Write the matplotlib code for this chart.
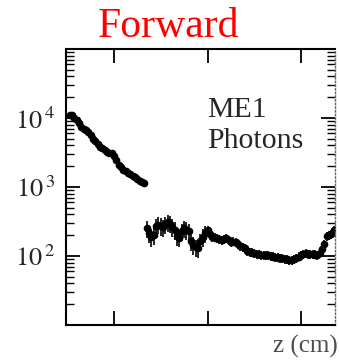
import numpy as np
import matplotlib.pyplot as plt
from matplotlib.ticker import LogLocator, NullFormatter, FixedLocator

# photon rate vs z, first part (inner ring region)
z_inner = [505, 510, 515, 520, 525, 530, 535, 540, 545, 550, 555, 560, 565, 570,
           575, 580, 585, 590, 595, 600, 605, 610, 615, 620, 625, 630, 635, 640,
           645, 650, 655, 660, 665]
n_inner = [11200, 10900, 10000, 9500, 8500, 7400, 6900, 6800, 6300, 5600, 5000,
           4600, 4200, 3800, 3700, 3450, 3250, 3150, 3100, 2800, 2500, 2100, 1950,
           1780, 1700, 1620, 1550, 1450, 1380, 1290, 1230, 1180, 1150]

# second part
z_outer = [670, 675, 680, 685, 690, 695, 700, 705, 710, 715, 720, 725, 730, 735,
           740, 745, 750, 755, 760, 765, 770, 775, 780, 785, 790, 795, 800, 805,
           810, 815, 820, 825, 830, 835, 840, 845, 850, 855, 860, 865, 870, 875,
           880, 885, 890, 895, 900, 905, 910, 915, 920, 925, 930, 935, 940, 945,
           950, 955, 960, 965, 970, 975, 980, 985, 990, 995, 1000, 1005, 1010,
           1015, 1020, 1025, 1030, 1035, 1040, 1045, 1050, 1055, 1060, 1065, 1070]
n_outer = [255, 215, 190, 200, 270, 285, 275, 260, 290, 310, 295, 265, 240, 195,
           185, 230, 255, 240, 230, 165, 145, 135, 130, 165, 190, 215, 235, 210,
           190, 185, 180, 175, 170, 175, 180, 170, 160, 162, 158, 150, 140, 135,
           130, 118, 114, 112, 110, 108, 106, 104, 103, 104, 102, 100, 98, 96,
           95, 93, 92, 90, 89, 88, 88, 89, 92, 98, 103, 107, 109, 108, 106, 106,
           105, 104, 112, 128, 150, 195, 200, 205, 235]

# relative errors
err_inner = 0.04
err_outer_low_z = 0.28   # z < 800
err_outer_high_z = 0.15

plt.rcParams['mathtext.fontset'] = 'stix'
plt.rcParams['font.family'] = 'Liberation Serif'

fig = plt.figure(figsize=(3.39, 3.61), dpi=100)
ax = fig.add_axes([66 / 339, 36 / 361, 269 / 339, 276 / 361])

n_in = np.array(n_inner, dtype=float)
ax.errorbar(z_inner, n_in, yerr=n_in * err_inner, fmt='o', color='black',
            ms=4.5, elinewidth=1.2, capsize=0)

z_out = np.array(z_outer)
n_out = np.array(n_outer, dtype=float)
rel = np.where(z_out < 800, err_outer_low_z, err_outer_high_z)
ax.errorbar(z_out, n_out, yerr=n_out * rel, fmt='o', color='black',
            ms=4.5, elinewidth=1.2, capsize=0)

ax.set_yscale('log')
ax.set_ylim(10, 1e5)
ax.set_xlim(497, 1073)

ax.xaxis.set_major_locator(FixedLocator([600, 800, 1000]))
ax.set_xticklabels([])
ax.yaxis.set_major_locator(FixedLocator([1e2, 1e3, 1e4]))
ax.set_yticklabels([r'$10^{\,2}$', r'$10^{\,3}$', r'$10^{\,4}$'], fontsize=19,
                   color='0.15')
ax.yaxis.set_minor_locator(LogLocator(base=10, subs=np.arange(2, 10)))
ax.yaxis.set_minor_formatter(NullFormatter())

ax.tick_params(axis='both', which='major', direction='in', length=10, width=1.3,
               top=True, right=True, pad=8)
ax.tick_params(axis='y', which='minor', direction='in', length=6, width=1,
               right=True)

for side in ['left', 'bottom', 'top']:
    ax.spines[side].set_linewidth(1.5)
ax.spines['right'].set_linewidth(1)
ax.spines['right'].set_linestyle(':')
ax.spines['right'].set_color('0.4')

fig.text(0.4985, (361 - 37) / 361, 'Forward', color='red', fontsize=30,
         ha='center', va='baseline')
fig.text(207 / 339, (361 - 117) / 361, 'ME1', fontsize=21.5, va='baseline',
         color='0.15')
fig.text(207 / 339, (361 - 148) / 361, 'Photons', fontsize=21.5, va='baseline',
         color='0.15')
fig.text(338 / 339, (361 - 353) / 361, 'z (cm)', fontsize=18, ha='right',
         va='baseline', color='0.3')

fig.savefig('out.png', dpi=100)
